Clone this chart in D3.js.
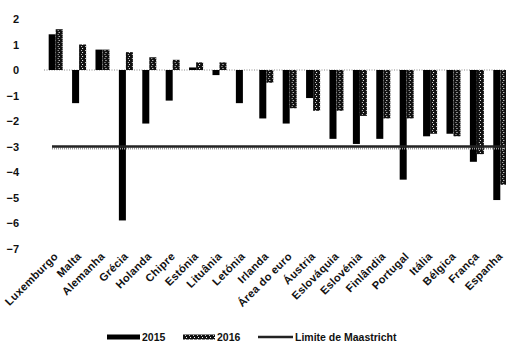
<!DOCTYPE html>
<html>
<head>
<meta charset="utf-8">
<script src="https://cdn.jsdelivr.net/npm/d3@7"></script>
<style>
  body { margin: 0; background: #fff; }
  svg text { font-family: "Liberation Sans", Arial, sans-serif; font-weight: bold; fill: #111; }
</style>
</head>
<body>
<div id="chart"></div>
<script>
var countries = ["Luxemburgo", "Malta", "Alemanha", "Grécia", "Holanda", "Chipre", "Estónia", "Lituânia", "Letónia", "Irlanda",
    "Área do euro", "Áustria", "Eslováquia", "Eslovénia", "Finlândia", "Portugal", "Itália", "Bélgica", "França", "Espanha"];
var years = ["2015", "2016"];
var deficit2015 = [1.4, -1.3, 0.8, -5.9, -2.1, -1.2, 0.1, -0.2, -1.3, -1.9, -2.1, -1.1, -2.7, -2.9, -2.7, -4.3, -2.6, -2.5, -3.6, -5.1];
var deficit2016 = [1.6, 1.0, 0.8, 0.7, 0.5, 0.4, 0.3, 0.3, 0.0, -0.5, -1.5, -1.6, -1.6, -1.8, -1.9, -1.9, -2.5, -2.6, -3.3, -4.5];
var yTicks = [2, 1, 0, -1, -2, -3, -4, -5, -6, -7];
var maastricht = -3;
var legendLabels = ["2015", "2016", "Limite de Maastricht"];

var width = 506, height = 345;

var svg = d3.select("#chart").append("svg")
    .attr("width", width)
    .attr("height", height);

var defs = svg.append("defs");
var pat = defs.append("pattern")
    .attr("id", "speckle")
    .attr("patternUnits", "userSpaceOnUse")
    .attr("width", 4).attr("height", 4);
pat.append("rect").attr("width", 4).attr("height", 4).attr("fill", "#111");
pat.append("rect").attr("x", 2).attr("y", 0).attr("width", 1).attr("height", 1).attr("fill", "#fff");
pat.append("rect").attr("x", 1).attr("y", 2).attr("width", 1).attr("height", 1).attr("fill", "#ccc");

// scales
var x0 = d3.scaleBand()
    .domain(countries)
    .range([44, 512])
    .paddingInner(0.4)
    .paddingOuter(0.2);

var x1 = d3.scaleBand()
    .domain(years)
    .range([0, x0.bandwidth()]);

var y = d3.scaleLinear()
    .domain([-7, 2])
    .range([248.5, 19]);

// y axis labels
var yAxis = svg.append("g")
    .attr("transform", "translate(19,0)")
    .call(d3.axisLeft(y).tickValues(yTicks).tickSize(0).tickPadding(0).tickFormat(d3.format("d")));
yAxis.select(".domain").remove();
yAxis.selectAll("text").attr("font-size", 11).style("font-family", "Liberation Sans, Arial, sans-serif").style("font-weight", "bold");

// zero line
svg.append("line")
    .attr("x1", 44).attr("x2", width)
    .attr("y1", y(0)).attr("y2", y(0))
    .attr("stroke", "#888")
    .attr("stroke-width", 1)
    .attr("stroke-dasharray", "1,1.5");

var rows = countries.map(function (c, i) {
    return { country: c, values: [{ year: "2015", v: deficit2015[i] }, { year: "2016", v: deficit2016[i] }] };
});

var groups = svg.append("g").selectAll("g")
    .data(rows)
    .enter().append("g")
    .attr("transform", function (d) { return "translate(" + x0(d.country) + ",0)"; });

groups.selectAll("rect")
    .data(function (d) { return d.values; })
    .enter().append("rect")
    .attr("x", function (d) { return x1(d.year); })
    .attr("width", x1.bandwidth())
    .attr("y", function (d) { return y(Math.max(0, d.v)); })
    .attr("height", function (d) { return Math.abs(y(d.v) - y(0)); })
    .attr("fill", function (d) { return d.year == "2015" ? "#000" : "url(#speckle)"; });

// Maastricht limit
svg.append("line")
    .attr("x1", 52).attr("x2", width)
    .attr("y1", y(maastricht) + 2).attr("y2", y(maastricht) + 2)
    .attr("stroke", "#999")
    .attr("stroke-width", 2)
    .attr("stroke-dasharray", "1,1");
svg.append("line")
    .attr("x1", 52).attr("x2", width)
    .attr("y1", y(maastricht)).attr("y2", y(maastricht))
    .attr("stroke", "#222")
    .attr("stroke-width", 2.5);

// x labels
svg.append("g").selectAll("text")
    .data(countries)
    .enter().append("text")
    .attr("transform", function (d) {
        return "translate(" + (x0(d) + x0.bandwidth() / 2 + 3) + ",257) rotate(-45)";
    })
    .attr("text-anchor", "end")
    .attr("font-size", 11)
    .attr("letter-spacing", 0.3)
    .text(function (d) { return d; });

// legend
var legend = svg.append("g").attr("transform", "translate(0,337)");
legend.append("rect").attr("x", 107).attr("y", -2.5).attr("width", 33).attr("height", 5).attr("fill", "#000");
legend.append("text").attr("x", 142).attr("y", 4).attr("font-size", 10.5).text(legendLabels[0]);
legend.append("rect").attr("x", 183).attr("y", -2.5).attr("width", 32).attr("height", 5).attr("fill", "url(#speckle)");
legend.append("text").attr("x", 217).attr("y", 4).attr("font-size", 10.5).text(legendLabels[1]);
legend.append("line").attr("x1", 258).attr("x2", 293).attr("y1", 0).attr("y2", 0)
    .attr("stroke", "#222").attr("stroke-width", 2.5);
legend.append("text").attr("x", 295).attr("y", 4).attr("font-size", 10.5).text(legendLabels[2]);
</script>
</body>
</html>
